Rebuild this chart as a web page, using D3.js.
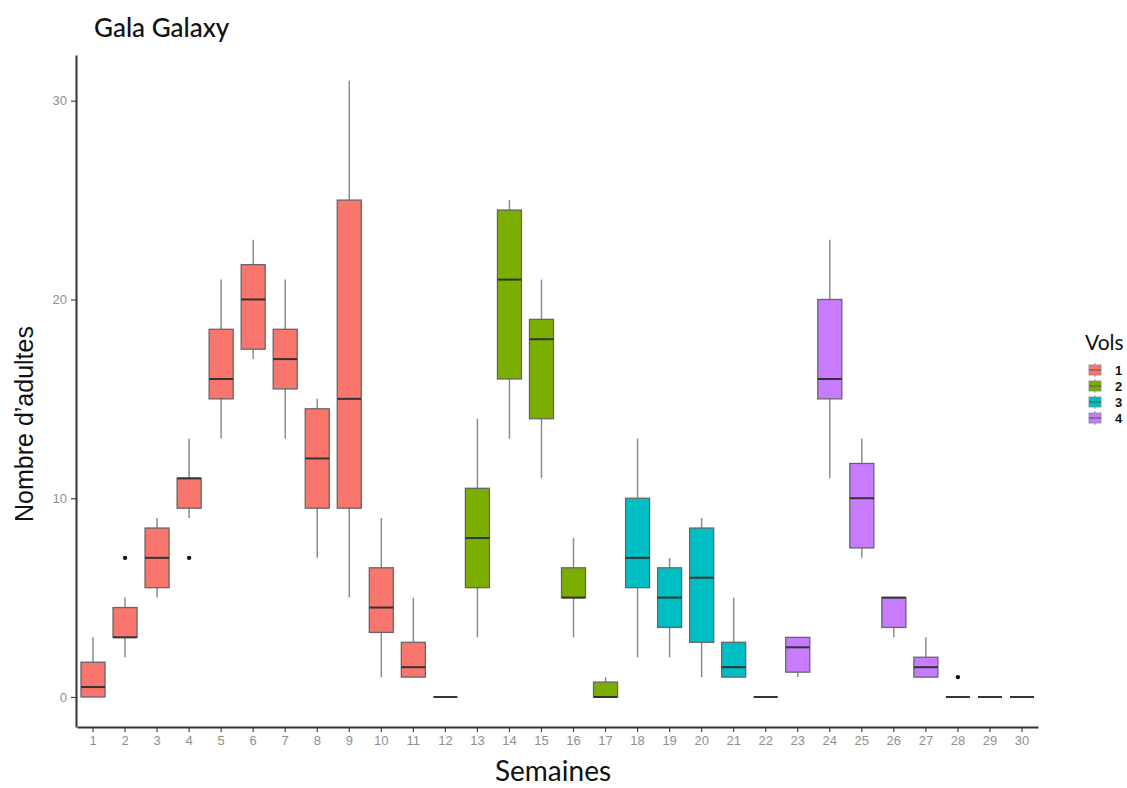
<!DOCTYPE html>
<html>
<head>
<meta charset="utf-8">
<script src="https://cdn.jsdelivr.net/npm/d3@7"></script>
<style>
  body { margin: 0; background: #fff; }
  svg text { font-family: "Liberation Sans", Arial, sans-serif; }
</style>
</head>
<body>
<div id="chart"></div>
<script>
// Boxplot of adults per week, coloured by flight (Vols)

var weeks  = d3.range(1, 31)
var vols   = [1,1,1,1,1,1,1,1,1,1,1,1, 2,2,2,2,2, 3,3,3,3,3, 4,4,4,4,4,4,4,4]
var lower  = [0, 2, 5, 9, 13, 17, 13, 7, 5, 1, 1, 0, 3, 13, 11, 3, 0, 2, 2, 1, 1, 0, 1, 11, 7, 3, 1, 0, 0, 0]
var q1     = [0, 3, 5.5, 9.5, 15, 17.5, 15.5, 9.5, 9.5, 3.25, 1, 0, 5.5, 16, 14, 5, 0, 5.5, 3.5, 2.75, 1, 0, 1.25, 15, 7.5, 3.5, 1, 0, 0, 0]
var median = [0.5, 3, 7, 11, 16, 20, 17, 12, 15, 4.5, 1.5, 0, 8, 21, 18, 5, 0, 7, 5, 6, 1.5, 0, 2.5, 16, 10, 5, 1.5, 0, 0, 0]
var q3     = [1.75, 4.5, 8.5, 11, 18.5, 21.75, 18.5, 14.5, 25, 6.5, 2.75, 0, 10.5, 24.5, 19, 6.5, 0.75, 10, 6.5, 8.5, 2.75, 0, 3, 20, 11.75, 5, 2, 0, 0, 0]
var upper  = [3, 5, 9, 13, 21, 23, 21, 15, 31, 9, 5, 0, 14, 25, 21, 8, 1, 13, 7, 9, 5, 0, 3, 23, 13, 5, 3, 0, 0, 0]
var outliers = [{ week: 2, value: 7 }, { week: 4, value: 7 }, { week: 28, value: 1 }]

var volNames  = ["1", "2", "3", "4"]
var volColors = ["#F8766D", "#7CAE00", "#00BFC4", "#C77CFF"]
var yTicks = [0, 10, 20, 30]

var width = 1127
var height = 788

var svg = d3.select("#chart")
  .append("svg")
  .attr("width", width)
  .attr("height", height)

var x = d3.scaleBand()
  .domain(weeks)
  .range([77, 1038])

var y = d3.scaleLinear()
  .domain([-1.51, 32.3])
  .range([727, 55])

var color = d3.scaleOrdinal()
  .domain(volNames)
  .range(volColors)

var boxW = x.bandwidth() * 0.75

var rows = weeks.map(function(w, i) {
  return { week: w, vol: String(vols[i]), lo: lower[i], q1: q1[i], med: median[i], q3: q3[i], hi: upper[i] }
})

// axes
var yAxis = svg.append("g")
  .attr("transform", "translate(76,0)")
  .call(d3.axisLeft(y).tickValues(yTicks).tickSizeInner(5).tickSizeOuter(0).tickPadding(4))
var xAxis = svg.append("g")
  .attr("transform", "translate(0,727)")
  .call(d3.axisBottom(x).tickSizeInner(5).tickSizeOuter(0).tickPadding(4))

;[yAxis, xAxis].forEach(function(a) {
  a.select(".domain").attr("stroke", "#333").attr("stroke-width", 2)
  a.selectAll(".tick line").attr("stroke", "#444").attr("stroke-width", 1.2)
  a.selectAll(".tick text").attr("fill", "#8f8f8f").style("font-size", "13px")
})

// boxes
var g = svg.append("g").selectAll("g")
  .data(rows)
  .enter().append("g")
  .attr("transform", function(d) { return "translate(" + (x(d.week) + x.bandwidth() / 2) + ",0)" })

g.append("line")
  .attr("y1", function(d) { return y(d.hi) })
  .attr("y2", function(d) { return y(d.lo) })
  .attr("stroke", "#8c8c8c")
  .attr("stroke-width", 1.5)

g.append("rect")
  .attr("x", -boxW / 2)
  .attr("width", boxW)
  .attr("y", function(d) { return y(d.q3) })
  .attr("height", function(d) { return y(d.q1) - y(d.q3) })
  .attr("fill", function(d) { return color(d.vol) })
  .attr("stroke", "#666")
  .attr("stroke-width", 1.3)

g.append("line")
  .attr("x1", -boxW / 2)
  .attr("x2", boxW / 2)
  .attr("y1", function(d) { return y(d.med) })
  .attr("y2", function(d) { return y(d.med) })
  .attr("stroke", "#333")
  .attr("stroke-width", 2)

svg.append("g").selectAll("circle")
  .data(outliers)
  .enter().append("circle")
  .attr("cx", function(d) { return x(d.week) + x.bandwidth() / 2 })
  .attr("cy", function(d) { return y(d.value) })
  .attr("r", 2.2)
  .attr("fill", "#111")

// titles
svg.append("text")
  .attr("x", 94)
  .attr("y", 37)
  .style("font-family", "Lato, 'Open Sans', sans-serif")
  .style("font-size", "26px")
  .style("font-weight", 500)
  .attr("fill", "#111")
  .text("Gala Galaxy")

svg.append("text")
  .attr("x", 553)
  .attr("y", 781)
  .attr("text-anchor", "middle")
  .style("font-family", "Lato, 'Open Sans', sans-serif")
  .style("font-size", "28px")
  .attr("fill", "#111")
  .text("Semaines")

svg.append("text")
  .attr("transform", "translate(33,424) rotate(-90)")
  .attr("text-anchor", "middle")
  .style("font-family", "'Liberation Sans Narrow', 'Liberation Sans', sans-serif")
  .style("font-size", "25px")
  .attr("fill", "#111")
  .text("Nombre d\u2019adultes")

// legend
var legend = svg.append("g").attr("transform", "translate(1085,0)")
legend.append("text")
  .attr("x", 0)
  .attr("y", 350)
  .style("font-family", "Lato, 'Open Sans', sans-serif")
  .style("font-size", "21px")
  .attr("fill", "#111")
  .text("Vols")

var item = legend.selectAll("g.item")
  .data(volNames)
  .enter().append("g")
  .attr("class", "item")
  .attr("transform", function(d, i) { return "translate(0," + (370 + i * 16) + ")" })

item.append("line")
  .attr("x1", 10).attr("x2", 10).attr("y1", -7).attr("y2", 7)
  .attr("stroke", "#999")
item.append("rect")
  .attr("x", 4).attr("y", -5).attr("width", 12).attr("height", 10)
  .attr("fill", function(d) { return color(d) })
  .attr("stroke", "#888").attr("stroke-width", 0.8)
item.append("line")
  .attr("x1", 4).attr("x2", 16).attr("y1", 0).attr("y2", 0)
  .attr("stroke", "#555")
item.append("text")
  .attr("x", 30)
  .attr("y", 5)
  .style("font-size", "13px")
  .style("font-weight", "bold")
  .attr("fill", "#111")
  .text(function(d) { return d })
</script>
</body>
</html>
